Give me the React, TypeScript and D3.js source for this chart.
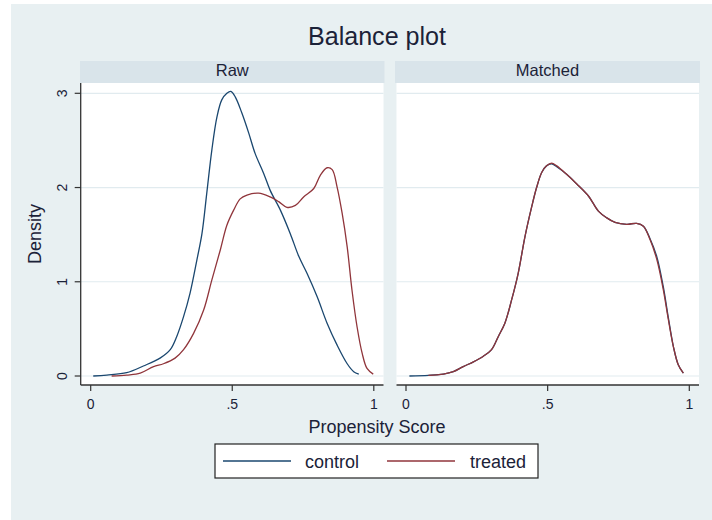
import React from "react";
import * as d3 from "d3";

const title = "Balance plot";
const panels = ["Raw", "Matched"];
const seriesNames = ["control", "treated"];
const xTicks = [0, 0.5, 1];
const xTickLabels = ["0", ".5", "1"];
const yTicks = [0, 1, 2, 3];
const yTickLabels = ["0", "1", "2", "3"];

const rawControlX = [0.009, 0.057, 0.127, 0.186, 0.245, 0.281, 0.304, 0.328, 0.351, 0.375, 0.393, 0.41, 0.428, 0.446, 0.463, 0.481, 0.495, 0.511, 0.534, 0.558, 0.581, 0.611, 0.634, 0.67, 0.705, 0.735, 0.764, 0.8, 0.835, 0.87, 0.906, 0.929, 0.947];
const rawControlY = [0, 0.01, 0.035, 0.106, 0.19, 0.28, 0.42, 0.63, 0.88, 1.23, 1.51, 1.94, 2.4, 2.75, 2.93, 3.0, 3.02, 2.96, 2.79, 2.58, 2.36, 2.15, 1.97, 1.76, 1.51, 1.27, 1.09, 0.84, 0.56, 0.33, 0.13, 0.046, 0.02];

const rawTreatedX = [0.074, 0.127, 0.175, 0.222, 0.257, 0.298, 0.328, 0.363, 0.399, 0.428, 0.458, 0.481, 0.505, 0.528, 0.552, 0.593, 0.634, 0.664, 0.693, 0.723, 0.752, 0.788, 0.811, 0.835, 0.853, 0.87, 0.888, 0.906, 0.923, 0.941, 0.959, 0.976, 0.998];
const rawTreatedY = [0, 0.01, 0.03, 0.1, 0.13, 0.19, 0.28, 0.45, 0.7, 1.02, 1.34, 1.6, 1.76, 1.88, 1.92, 1.94, 1.9, 1.85, 1.79, 1.81, 1.9, 1.99, 2.13, 2.21, 2.19, 2.01, 1.73, 1.37, 0.91, 0.52, 0.24, 0.08, 0.02];

const matchedControlX = [0.012, 0.079, 0.132, 0.167, 0.202, 0.238, 0.273, 0.302, 0.326, 0.349, 0.373, 0.396, 0.42, 0.444, 0.461, 0.479, 0.496, 0.514, 0.532, 0.567, 0.602, 0.644, 0.679, 0.708, 0.738, 0.779, 0.814, 0.838, 0.861, 0.885, 0.908, 0.926, 0.944, 0.961, 0.979];
const matchedControlY = [0, 0.007, 0.02, 0.046, 0.1, 0.15, 0.21, 0.28, 0.42, 0.56, 0.81, 1.09, 1.48, 1.8, 2.0, 2.16, 2.23, 2.25, 2.22, 2.14, 2.04, 1.91, 1.75, 1.68, 1.63, 1.61, 1.62, 1.59, 1.46, 1.27, 0.95, 0.62, 0.31, 0.12, 0.03];

const matchedTreatedX = [0.079, 0.132, 0.167, 0.202, 0.238, 0.273, 0.302, 0.326, 0.349, 0.373, 0.396, 0.42, 0.444, 0.461, 0.479, 0.496, 0.514, 0.532, 0.567, 0.602, 0.644, 0.679, 0.708, 0.738, 0.779, 0.814, 0.838, 0.861, 0.885, 0.908, 0.926, 0.944, 0.961, 0.979];
const matchedTreatedY = [0.007, 0.02, 0.046, 0.1, 0.15, 0.21, 0.28, 0.42, 0.56, 0.81, 1.09, 1.48, 1.8, 2.0, 2.16, 2.23, 2.26, 2.23, 2.14, 2.04, 1.91, 1.75, 1.68, 1.63, 1.61, 1.62, 1.59, 1.45, 1.24, 0.92, 0.6, 0.31, 0.12, 0.03];

const COLORS = { control: "#1a476f", treated: "#90353b" };
const BG = "#e8f0f2";
const STRIP = "#d9e4ea";
const GRID = "#e1ebef";
const TEXT = "#1b2238";
const FONT = "'Liberation Sans', Arial, sans-serif";

function zip(xs: number[], ys: number[]) {
  return xs.map((x, i) => [x, ys[i]] as [number, number]);
}

const panelData = [
  { name: panels[0], control: zip(rawControlX, rawControlY), treated: zip(rawTreatedX, rawTreatedY), left: 80.7, right: 383.5, stripL: 80, stripR: 384.5, range: [90.7, 373.8], yAxis: true },
  { name: panels[1], control: zip(matchedControlX, matchedControlY), treated: zip(matchedTreatedX, matchedTreatedY), left: 396.5, right: 699, stripL: 395, stripR: 700, range: [406, 689.3], yAxis: false },
];

const plotTop = 83;
const plotBottom = 385;

export default function App() {
  const y = d3.scaleLinear().domain([0, 3]).range([376, 93.3]);
  return (
    <svg width={712} height={520} style={{ position: "absolute", left: 0, top: 0 }} fontFamily={FONT}>
      <rect x={0} y={0} width={712} height={520} fill="#ffffff" />
      <rect x={11} y={4} width={701} height={516} fill={BG} />
      <text x={377} y={44.5} textAnchor="middle" fontSize={25} fill={TEXT} textLength={138} lengthAdjust="spacingAndGlyphs">{title}</text>
      {panelData.map((p) => {
        const x = d3.scaleLinear().domain([0, 1]).range(p.range);
        const line = d3.line<[number, number]>().x((d) => x(d[0])).y((d) => y(d[1])).curve(d3.curveCatmullRom.alpha(0.5));
        return (
          <g key={p.name}>
            <rect x={p.stripL} y={61} width={p.stripR - p.stripL} height={22} fill={STRIP} />
            <text x={(p.stripL + p.stripR) / 2} y={76} textAnchor="middle" fontSize={16.5} fill={TEXT}>{p.name}</text>
            <rect x={p.left} y={plotTop} width={p.right - p.left} height={plotBottom - plotTop} fill="#ffffff" />
            {yTicks.map((t) => (
              <line key={t} x1={p.left} x2={p.right} y1={y(t)} y2={y(t)} stroke={GRID} strokeWidth={1.2} />
            ))}
            <path d={line(p.control) || ""} fill="none" stroke={COLORS.control} strokeWidth={1.3} />
            <path d={line(p.treated) || ""} fill="none" stroke={COLORS.treated} strokeWidth={1.3} />
            <line x1={p.left} x2={p.right} y1={plotBottom} y2={plotBottom} stroke="#333" strokeWidth={1.3} />
            {xTicks.map((t, i) => (
              <g key={t}>
                <line x1={x(t)} x2={x(t)} y1={plotBottom} y2={plotBottom + 6} stroke="#333" strokeWidth={1.2} />
                <text x={x(t)} y={408.5} textAnchor="middle" fontSize={14} fill={TEXT}>{xTickLabels[i]}</text>
              </g>
            ))}
            {p.yAxis && (
              <g>
                <line x1={p.left} x2={p.left} y1={plotTop} y2={plotBottom} stroke="#333" strokeWidth={1.3} />
                {yTicks.map((t, i) => (
                  <g key={t}>
                    <line x1={p.left - 6} x2={p.left} y1={y(t)} y2={y(t)} stroke="#333" strokeWidth={1.2} />
                    <text x={67} y={y(t)} textAnchor="middle" fontSize={14} fill={TEXT} transform={`rotate(-90, 67, ${y(t)})`}>{yTickLabels[i]}</text>
                  </g>
                ))}
              </g>
            )}
          </g>
        );
      })}
      <text x={377} y={433} textAnchor="middle" fontSize={18} fill={TEXT}>Propensity Score</text>
      <text x={41} y={234} textAnchor="middle" fontSize={18} fill={TEXT} transform="rotate(-90, 41, 234)">Density</text>
      <rect x={215} y={444} width={323} height={34} fill="#ffffff" stroke="#222" strokeWidth={1.2} />
      <line x1={223} x2={291} y1={461} y2={461} stroke={COLORS.control} strokeWidth={1.5} />
      <text x={305} y={467.5} fontSize={18} fill={TEXT}>{seriesNames[0]}</text>
      <line x1={387} x2={455} y1={461} y2={461} stroke={COLORS.treated} strokeWidth={1.5} />
      <text x={470} y={467.5} fontSize={18} fill={TEXT}>{seriesNames[1]}</text>
    </svg>
  );
}
